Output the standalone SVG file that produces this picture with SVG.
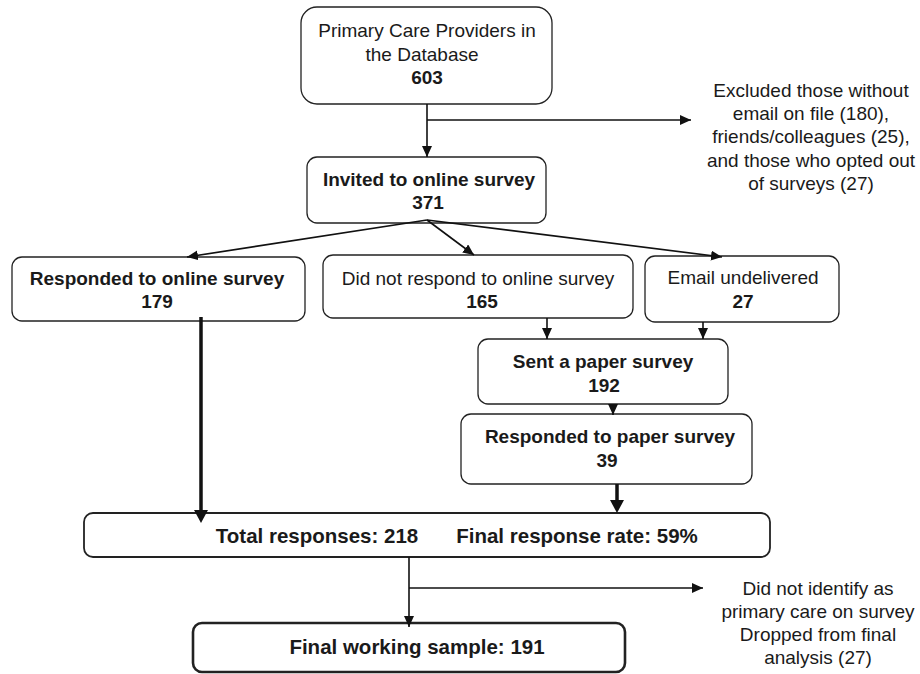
<svg xmlns="http://www.w3.org/2000/svg" width="920" height="674" viewBox="0 0 920 674">
<defs>
<style>
.box{fill:#fff;stroke:#222;stroke-width:1.3}
.t{font-family:"Liberation Sans",Arial,sans-serif;font-size:19px;fill:#1a1a1a;text-anchor:middle}
.b{font-weight:bold}
.big{font-size:20.5px;font-weight:bold}
.ln{fill:none;stroke:#111;stroke-width:1.6}
.thick{fill:none;stroke:#111;stroke-width:3.5}
</style>
<marker id="ah" markerUnits="userSpaceOnUse" markerWidth="12" markerHeight="10" refX="11" refY="5" orient="auto">
<path d="M0,0 L11,5 L0,10 Z" fill="#111"/>
</marker>
<marker id="ahb" markerUnits="userSpaceOnUse" markerWidth="14" markerHeight="14" refX="0" refY="7" orient="auto">
<path d="M0,0 L13,7 L0,14 Z" fill="#111"/>
</marker>
</defs>
<rect width="920" height="674" fill="#fff"/>

<g id="n-database">
<rect class="box" x="301" y="7" width="251" height="97" rx="16"/>
<text class="t" x="427" y="37">Primary Care Providers in</text>
<text class="t" x="422" y="61">the Database</text>
<text class="t b" x="427" y="84">603</text>
</g>

<g id="n-excluded">
<text class="t" x="811" y="97">Excluded those without</text>
<text class="t" x="811" y="120">email on file (180),</text>
<text class="t" x="811" y="143">friends/colleagues (25),</text>
<text class="t" x="811" y="167">and those who opted out</text>
<text class="t" x="811" y="190">of surveys (27)</text>
</g>

<g id="n-invited">
<rect class="box" x="307" y="157" width="239" height="66" rx="10"/>
<text class="t b" x="429" y="186">Invited to online survey</text>
<text class="t b" x="428" y="209">371</text>
</g>

<g id="n-responded-online">
<rect class="box" x="12" y="257" width="293" height="64" rx="10"/>
<text class="t b" x="157" y="285">Responded to online survey</text>
<text class="t b" x="157" y="308">179</text>
</g>

<g id="n-not-responded">
<rect class="box" x="323" y="255" width="310" height="63" rx="10"/>
<text class="t" x="478" y="285">Did not respond to online survey</text>
<text class="t b" x="482" y="308">165</text>
</g>

<g id="n-email">
<rect class="box" x="645" y="256" width="194" height="66" rx="10"/>
<text class="t" x="743" y="284">Email undelivered</text>
<text class="t b" x="743" y="308">27</text>
</g>

<g id="n-sent-paper">
<rect class="box" x="478" y="339" width="250" height="65" rx="10"/>
<text class="t b" x="603" y="368">Sent a paper survey</text>
<text class="t b" x="604" y="392">192</text>
</g>

<g id="n-responded-paper">
<rect class="box" x="461" y="414" width="291" height="70" rx="10"/>
<text class="t b" x="610" y="443">Responded to paper survey</text>
<text class="t b" x="607" y="467">39</text>
</g>

<g id="n-total">
<rect class="box" x="84" y="513" width="686" height="44" rx="9" style="stroke-width:1.8"/>
<text class="t big" x="317" y="543">Total responses: 218</text>
<text class="t big" x="577" y="543">Final response rate: 59%</text>
</g>

<g id="n-dropped">
<text class="t" x="818" y="595">Did not identify as</text>
<text class="t" x="818" y="618">primary care on survey</text>
<text class="t" x="818" y="641">Dropped from final</text>
<text class="t" x="818" y="664">analysis (27)</text>
</g>

<g id="n-final">
<rect class="box" x="193" y="623" width="432" height="49" rx="9" style="stroke-width:2.6"/>
<text class="t big" x="417" y="654">Final working sample: 191</text>
</g>

<g id="connectors">
<line class="ln" x1="427" y1="104" x2="427" y2="157" marker-end="url(#ah)"/>
<line class="ln" x1="427" y1="120" x2="691" y2="120" marker-end="url(#ah)"/>
<line class="ln" x1="427" y1="220" x2="187" y2="257" marker-end="url(#ah)"/>
<line class="ln" x1="427" y1="220" x2="474" y2="255" marker-end="url(#ah)"/>
<line class="ln" x1="427" y1="220" x2="722" y2="257" marker-end="url(#ah)"/>
<line class="ln" x1="547" y1="318" x2="547" y2="339" marker-end="url(#ah)"/>
<line class="ln" x1="703" y1="322" x2="703" y2="339" marker-end="url(#ah)"/>
<line class="ln" x1="613" y1="404" x2="613" y2="415" marker-end="url(#ah)"/>
<line class="thick" x1="201" y1="317" x2="201" y2="510" marker-end="url(#ahb)"/>
<line class="thick" x1="617" y1="484" x2="617" y2="500" marker-end="url(#ahb)"/>
<line class="ln" x1="409" y1="557" x2="409" y2="627" marker-end="url(#ah)"/>
<line class="ln" x1="409" y1="588" x2="703" y2="588" marker-end="url(#ah)"/>
</g>
</svg>
